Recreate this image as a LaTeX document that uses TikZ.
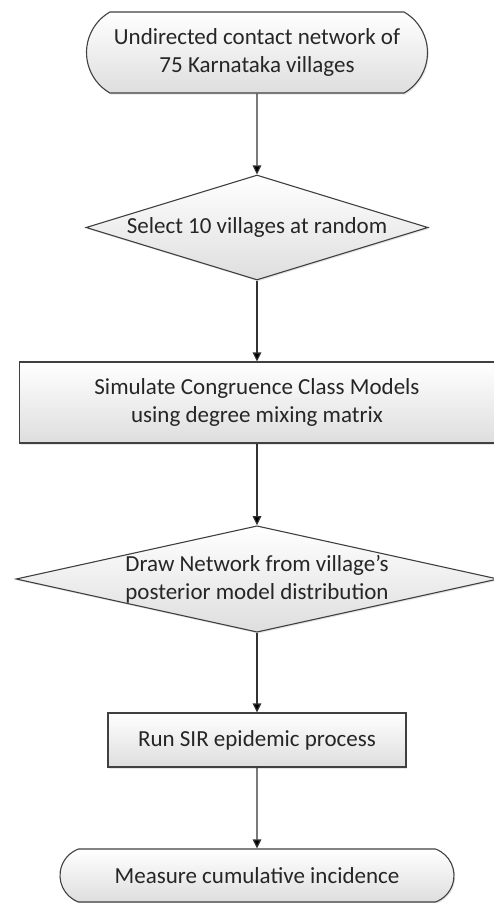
\documentclass[tikz,border=0pt]{standalone}
\usepackage{fontspec}
\setmainfont{Carlito}
\usepackage{tikz}
\usetikzlibrary{shapes,arrows.meta,shadows}

\begin{document}
\begin{tikzpicture}[->,>={Triangle[length=9pt,width=8.5pt]},x=1pt,y=1pt,node distance=175pt,semithick,
    every node/.style={font=\fontsize{23}{28}\selectfont,align=center,inner sep=0pt,text=black!85},
    box/.style={draw=black!75,line width=1.1pt,top color=white,bottom color=black!13,
        drop shadow={opacity=0.2,shadow xshift=1.2pt,shadow yshift=-1.5pt}},
    terminal/.style={box,rounded rectangle,rounded rectangle arc length=120},
    decision/.style={box,diamond,aspect=4},
    process/.style={box,rectangle}]
    \useasboundingbox (0,0) rectangle (494,-903);
    \node[terminal,minimum width=341pt,minimum height=81pt] (net) at (257,-52.5) {Undirected contact network of\\75 Karnataka villages};
    \node[decision,minimum width=342pt,minimum height=105pt,aspect=3.5] (sel) [below of=net] {Select 10 villages at random};
    \node[process,minimum width=475pt,minimum height=81pt] (sim) [below of=sel] {Simulate Congruence Class Models\\using degree mixing matrix};
    \node[decision,minimum width=482pt,minimum height=106pt,aspect=4.5] (drw) [below of=sim,node distance=176.5pt] {Draw Network from village’s\\posterior model distribution};
    \node[process,minimum width=298pt,minimum height=54pt] (sir) [below of=drw,node distance=161pt] {Run SIR epidemic process};
    \node[terminal,minimum width=394pt,minimum height=53pt,rounded rectangle arc length=140] (inc) [below of=sir,node distance=135.5pt] {Measure cumulative incidence};
    \path[draw=black!80,line width=1.1pt]
        (net) edge (sel)
        (sel) edge (sim)
        (sim) edge (drw)
        (drw) edge (sir)
        (sir) edge (inc);
\end{tikzpicture}
\end{document}
